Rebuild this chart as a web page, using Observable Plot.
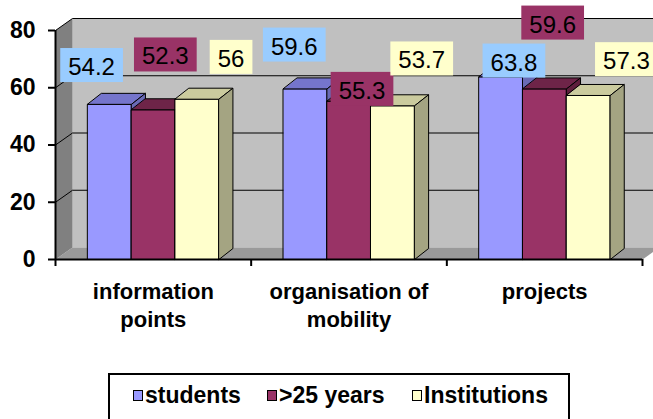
<!DOCTYPE html>
<html><head><meta charset="utf-8">
<script src="https://cdn.jsdelivr.net/npm/d3@7"></script>
<script src="https://cdn.jsdelivr.net/npm/@observablehq/plot@0.6"></script>
<style>
body{margin:0;background:#fff;font-family:"Liberation Sans",Arial,sans-serif;}
#wrap{position:relative;width:653px;height:419px;overflow:hidden;}
#legend{position:absolute;left:108px;top:373px;width:458px;height:60px;border:2px solid #000;background:#fff;}
.item{position:absolute;top:8px;display:flex;align-items:center;font-size:23px;font-weight:bold;color:#000;line-height:24px;}
.sw{width:8px;height:9px;border:1.5px solid #000;margin-right:2px;}
</style></head><body>
<div id="wrap"><div id="chart"></div><div id="legend"></div></div>
<script>
// ---- data ----
const categories = ["information\npoints", "organisation of\nmobility", "projects"];
const seriesNames = ["students", ">25 years", "Institutions"];
const students = [54.2, 59.6, 63.8];
const over25 = [52.3, 55.3, 59.6];
const institutions = [56, 53.7, 57.3];
const yTicks = [0, 20, 40, 60, 80];

// ---- styles / layout ----
const frontColors = ["#9999ff", "#993366", "#ffffcc"];
const topColors = ["#7575cc", "#6e2448", "#cbcb9e"];
const sideColors = ["#6a6ab5", "#5e1e3c", "#a4a482"];
const labelBg = ["#99ccff", "#993366", "#ffffcc"];
// label offsets in px from the bar's top centre (category-major order)
const labelOffsets = [[-18,-37],[12,-53],[34,-40],[-11,-42],[13,-10],[29,-45],[13,-14],[8,-64],[38,-34]];

const W = 653, H = 365, mL = 55, mR = 11, mT = 30, yBottom = 259;
const xPerUnit = (W - mL - mR) / 3;
const yPerUnit = (yBottom - mT) / 80;
const barW = 0.2235;
const bd = {dx: 14 / xPerUnit, dy: 11 / yPerUnit};
const wd = {dx: 17 / xPerUnit, dy: 12 / yPerUnit};

const series = [students, over25, institutions];
const poly = (pts, fill) => Plot.line(pts, {x: "x", y: "y", fill, stroke: "#000", strokeWidth: 1, curve: "linear-closed"});

const marks = [];
// walls
marks.push(Plot.line([{x: wd.dx, y: wd.dy}, {x: 3 + wd.dx, y: wd.dy}, {x: 3 + wd.dx, y: 80 + wd.dy}, {x: wd.dx, y: 80 + wd.dy}],
  {x: "x", y: "y", fill: "#c0c0c0", stroke: "none", curve: "linear-closed"}));
marks.push(Plot.line([{x: 0, y: 0}, {x: 3, y: 0}, {x: 3 + wd.dx, y: wd.dy}, {x: wd.dx, y: wd.dy}],
  {x: "x", y: "y", fill: "#9a9a9a", stroke: "none", curve: "linear-closed"}));
marks.push(Plot.line([{x: 0, y: 0}, {x: wd.dx, y: wd.dy}, {x: wd.dx, y: 80 + wd.dy}, {x: 0, y: 80}],
  {x: "x", y: "y", fill: "#808080", stroke: "none", curve: "linear-closed"}));
// gridlines
for (const v of yTicks.slice(1)) {
  marks.push(Plot.line([{x: 0, y: v}, {x: wd.dx, y: v + wd.dy}, {x: 3 + wd.dx, y: v + wd.dy}],
    {x: "x", y: "y", stroke: "#000", strokeWidth: 1}));
}
// bars
const labelInfo = [];
categories.forEach((c, i) => {
  series.forEach((arr, j) => {
    const v = arr[i];
    const x0 = i + 0.5 + (j - 1.5) * barW, x1 = x0 + barW;
    marks.push(poly([{x: x0, y: 0}, {x: x1, y: 0}, {x: x1, y: v}, {x: x0, y: v}], frontColors[j]));
    marks.push(poly([{x: x0, y: v}, {x: x1, y: v}, {x: x1 + bd.dx, y: v + bd.dy}, {x: x0 + bd.dx, y: v + bd.dy}], topColors[j]));
    marks.push(poly([{x: x1, y: 0}, {x: x1 + bd.dx, y: bd.dy}, {x: x1 + bd.dx, y: v + bd.dy}, {x: x1, y: v}], sideColors[j]));
    labelInfo.push({x: (x0 + x1) / 2, y: v, j, label: String(v)});
  });
});
// axes
marks.push(Plot.ruleX([0], {stroke: "#000", strokeWidth: 2}));
marks.push(Plot.ruleY([0], {stroke: "#000", strokeWidth: 2}));
marks.push(Plot.axisY(yTicks, {label: null, tickSize: 7, tickPadding: 13, fontSize: 23, fontWeight: "bold", strokeWidth: 2, tickFormat: d => String(d)}));
marks.push(Plot.axisX([0, 1, 2, 3], {label: null, tickSize: 7, strokeWidth: 2, tickFormat: () => ""}));
marks.push(Plot.text(categories, {x: (d, i) => i + 0.5, y: () => 0, text: d => d, lineAnchor: "top", dy: 20,
  fontSize: 22, fontWeight: "bold", lineHeight: 1.27, fill: "#000"}));
// data labels
labelInfo.forEach((d, k) => {
  marks.push(Plot.text([d], {x: "x", y: "y", text: "label", dx: labelOffsets[k][0], dy: labelOffsets[k][1],
    fontSize: 24, fill: "#000", ariaDescription: "dlabel"}));
});

const chart = Plot.plot({
  width: W, height: H,
  marginLeft: mL, marginRight: mR, marginTop: mT, marginBottom: H - yBottom,
  x: {domain: [0, 3]},
  y: {domain: [0, 80]},
  style: {fontFamily: "'Liberation Sans', Arial, sans-serif", background: "transparent", overflow: "visible"},
  marks
});
document.getElementById("chart").appendChild(chart);

// boxes behind data labels
const svgNS = "http://www.w3.org/2000/svg";
let texts = Array.from(chart.querySelectorAll('g[aria-description="dlabel"] text'));
if (texts.length !== labelInfo.length) texts = Array.from(chart.querySelectorAll('g[font-size="24"] text'));
texts.forEach((t, k) => {
  const bb = t.getBBox();
  const r = document.createElementNS(svgNS, "rect");
  r.setAttribute("x", bb.x - 8);
  r.setAttribute("y", bb.y - 5);
  r.setAttribute("width", bb.width + 16);
  r.setAttribute("height", bb.height + 7);
  r.setAttribute("fill", labelBg[labelInfo[k].j]);
  const tr = t.getAttribute("transform");
  if (tr) r.setAttribute("transform", tr);
  t.parentNode.insertBefore(r, t);
});

// legend
const legend = document.getElementById("legend");
const lefts = [23, 157, 302];
seriesNames.forEach((name, j) => {
  const it = document.createElement("div");
  it.className = "item";
  it.style.left = lefts[j] + "px";
  const sw = document.createElement("div");
  sw.className = "sw";
  sw.style.background = frontColors[j];
  it.appendChild(sw);
  it.appendChild(document.createTextNode(name));
  legend.appendChild(it);
});
</script>
</body></html>
